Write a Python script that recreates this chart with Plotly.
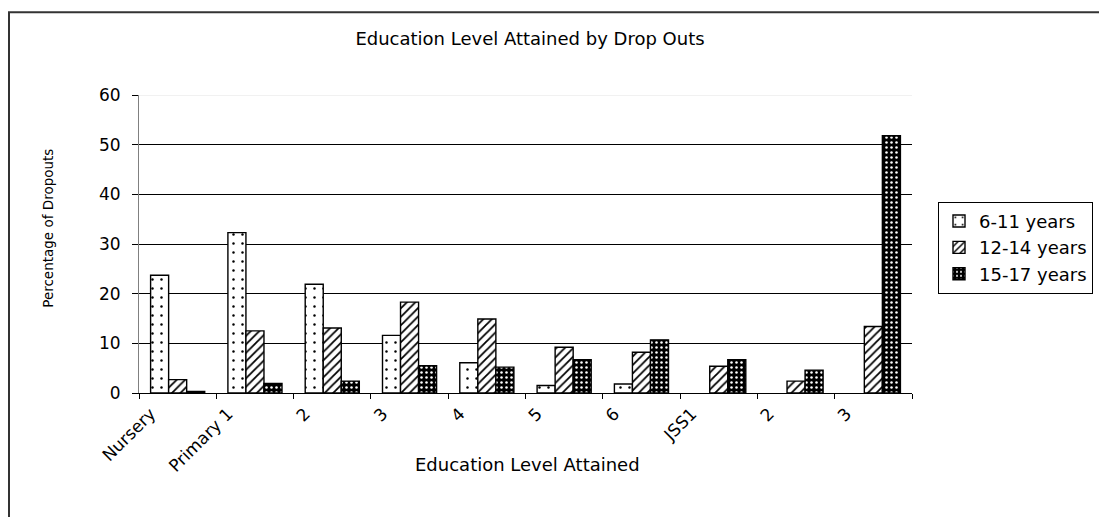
import plotly.graph_objects as go

categories = ["Nursery", "Primary 1", "2", "3", "4", "5", "6", "JSS1", "2", "3"]
series_names = ["6-11 years", "12-14 years", "15-17 years"]
age_6_11 = [23.7, 32.3, 21.9, 11.6, 6.1, 1.5, 1.8, 0, 0, 0]
age_12_14 = [2.7, 12.5, 13.1, 18.3, 14.9, 9.2, 8.2, 5.4, 2.4, 13.4]
age_15_17 = [0.3, 1.9, 2.4, 5.5, 5.2, 6.7, 10.7, 6.7, 4.6, 51.8]
y_ticks = [0, 10, 20, 30, 40, 50, 60]

FONT = "DejaVu Sans"
W, H = 1107, 517
OFF = 8  # the page places the figure 8px right/down; compensate
PL, PR, PT, PB = 139 - OFF, 912 - OFF, 95 - OFF, 393.5 - OFF  # plot area in figure px
L, R, T, B = PL, W - PR, PT, H - PB
pw = PR - PL
ph = PB - PT

def px_x(x):  # reference screen px -> paper
    return (x - OFF - PL) / pw

def px_y(y):
    return (PB - (y - OFF)) / ph

xpos = list(range(len(categories)))

patterns = [
    dict(shape=".", bgcolor="white", fgcolor="black", size=9, solidity=0.06),
    dict(shape="/", bgcolor="white", fgcolor="black", size=6, solidity=0.3),
    dict(shape=".", bgcolor="black", fgcolor="white", size=5, solidity=0.2),
]

fig = go.Figure()
for name, vals, pat in zip(series_names, [age_6_11, age_12_14, age_15_17], patterns):
    fig.add_trace(go.Bar(
        x=xpos, y=vals, name=name,
        marker=dict(color="white", pattern=dict(fillmode="replace", **pat),
                    line=dict(color="black", width=[1.4 if v > 0 else 0 for v in vals])),
    ))

fig.update_layout(
    width=W, height=H,
    margin=dict(l=L, r=R, t=T, b=B, autoexpand=False),
    paper_bgcolor="white", plot_bgcolor="white",
    barmode="group", bargap=0.3, bargroupgap=0,
    font=dict(family=FONT, size=16, color="black"),
    title=dict(text="Education Level Attained by Drop Outs",
               x=(530 - OFF) / W, xanchor="center",
               y=1 - (39 - OFF) / H, yanchor="middle",
               font=dict(family=FONT, size=18, color="black")),
    showlegend=True,
    legend=dict(x=px_x(938), xanchor="left", y=px_y(202), yanchor="top",
                bordercolor="black", borderwidth=1, bgcolor="white",
                font=dict(family=FONT, size=18, color="black"),
                tracegroupgap=0, itemwidth=30),
    xaxis=dict(range=[-0.5, len(categories) - 0.5], tickmode="array", tickvals=xpos,
               ticktext=categories, tickangle=-45, ticks="", showgrid=False,
               showline=True, linecolor="black", linewidth=1.3, zeroline=False,
               ticklabelshift=-27, ticklabelstandoff=3,
               tickfont=dict(family=FONT, size=17, color="black"),
               minor=dict(tickvals=[i - 0.5 for i in range(len(categories) + 1)],
                          ticks="outside", ticklen=5, tickcolor="black", showgrid=False)),
    yaxis=dict(range=[0, 60], tickmode="array", tickvals=y_ticks, ticks="outside",
               ticklen=6, tickcolor="black", showline=True, linecolor="#808080",
               linewidth=1, showgrid=True, gridcolor="black", gridwidth=1,
               zeroline=False, ticklabelstandoff=8,
               tickfont=dict(family=FONT, size=17, color="black")),
)

# faint top gridline at 60 like the reference
fig.add_shape(type="line", xref="paper", yref="y", x0=0, x1=1, y0=60, y1=60,
              line=dict(color="#ececec", width=1.5), layer="above")

# axis titles
fig.add_annotation(text="Education Level Attained", xref="paper", yref="paper",
                   x=px_x(527), y=px_y(465), xanchor="center", yanchor="middle",
                   showarrow=False, font=dict(family=FONT, size=18, color="black"))
fig.add_annotation(text="Percentage of Dropouts", xref="paper", yref="paper",
                   x=px_x(48), y=px_y(229), xanchor="center", yanchor="middle",
                   textangle=-90, showarrow=False,
                   font=dict(family=FONT, size=13.5, color="black"))

# outer chart frame
fig.add_shape(type="rect", xref="paper", yref="paper",
              x0=px_x(9), x1=px_x(W + 40), y0=px_y(H + 40), y1=px_y(12),
              line=dict(color="#333333", width=2), fillcolor="rgba(0,0,0,0)", layer="below")

fig.write_html("out.html")
